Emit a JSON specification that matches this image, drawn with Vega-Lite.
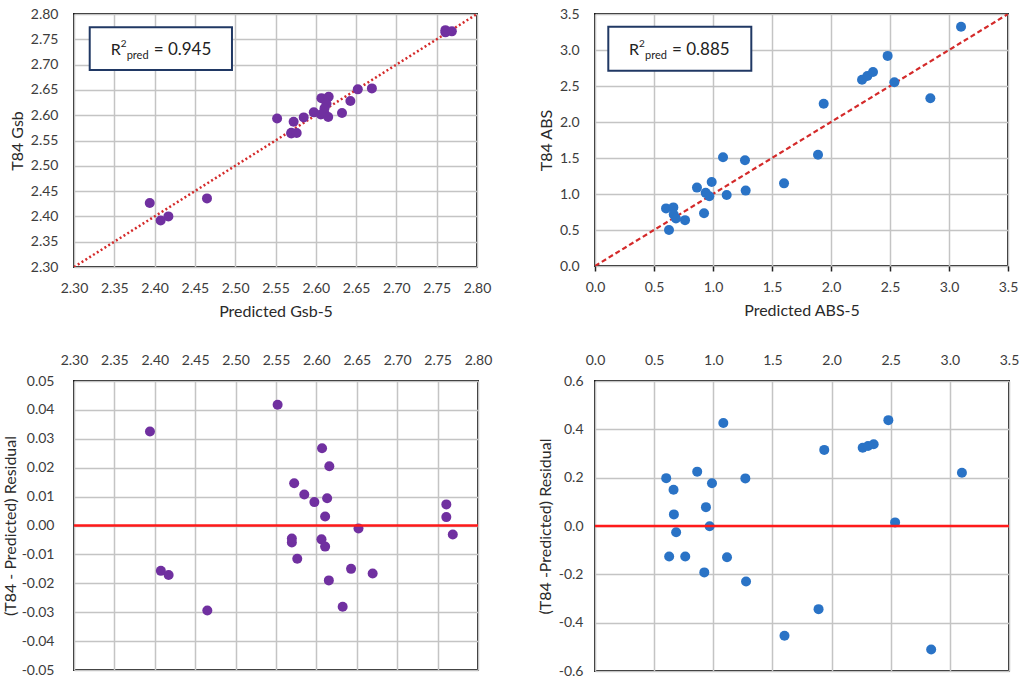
{
  "$schema": "https://vega.github.io/schema/vega-lite/v6.json",
  "background": "white",
  "padding": {"left": 1, "top": 6, "right": 5, "bottom": 5},
  "bounds": "flush",
  "columns": 2,
  "spacing": {"row": 114, "column": 117},
  "datasets": {
    "gsb": [
      {"pred": 2.552, "t84": 2.5935, "resid": 0.0418},
      {"pred": 2.394, "t84": 2.4265, "resid": 0.0325},
      {"pred": 2.607, "t84": 2.6337, "resid": 0.0267},
      {"pred": 2.616, "t84": 2.6365, "resid": 0.0205},
      {"pred": 2.5725, "t84": 2.5871, "resid": 0.0146},
      {"pred": 2.585, "t84": 2.5957, "resid": 0.0107},
      {"pred": 2.5975, "t84": 2.6056, "resid": 0.0081},
      {"pred": 2.6133, "t84": 2.6227, "resid": 0.0094},
      {"pred": 2.6108, "t84": 2.6139, "resid": 0.0031},
      {"pred": 2.7608, "t84": 2.7681, "resid": 0.0073},
      {"pred": 2.7608, "t84": 2.7637, "resid": 0.0029},
      {"pred": 2.7688, "t84": 2.7657, "resid": -0.0031},
      {"pred": 2.6521, "t84": 2.6511, "resid": -0.001},
      {"pred": 2.5696, "t84": 2.5651, "resid": -0.0045},
      {"pred": 2.5696, "t84": 2.5637, "resid": -0.0059},
      {"pred": 2.6063, "t84": 2.6015, "resid": -0.0048},
      {"pred": 2.6108, "t84": 2.6035, "resid": -0.0073},
      {"pred": 2.5763, "t84": 2.5648, "resid": -0.0115},
      {"pred": 2.4075, "t84": 2.3918, "resid": -0.0157},
      {"pred": 2.4171, "t84": 2.4, "resid": -0.0171},
      {"pred": 2.6429, "t84": 2.6279, "resid": -0.015},
      {"pred": 2.6696, "t84": 2.653, "resid": -0.0166},
      {"pred": 2.6154, "t84": 2.5964, "resid": -0.019},
      {"pred": 2.6325, "t84": 2.6044, "resid": -0.0281},
      {"pred": 2.465, "t84": 2.4356, "resid": -0.0294}
    ],
    "abs": [
      {"pred": 1.085, "t84": 1.511, "resid": 0.426},
      {"pred": 2.48, "t84": 2.918, "resid": 0.438},
      {"pred": 1.938, "t84": 2.253, "resid": 0.315},
      {"pred": 2.263, "t84": 2.587, "resid": 0.324},
      {"pred": 2.308, "t84": 2.639, "resid": 0.331},
      {"pred": 2.356, "t84": 2.694, "resid": 0.338},
      {"pred": 3.102, "t84": 3.322, "resid": 0.22},
      {"pred": 0.602, "t84": 0.8, "resid": 0.198},
      {"pred": 0.864, "t84": 1.089, "resid": 0.225},
      {"pred": 0.989, "t84": 1.166, "resid": 0.177},
      {"pred": 1.271, "t84": 1.468, "resid": 0.197},
      {"pred": 0.664, "t84": 0.814, "resid": 0.15},
      {"pred": 0.938, "t84": 1.016, "resid": 0.078},
      {"pred": 0.667, "t84": 0.715, "resid": 0.048},
      {"pred": 2.537, "t84": 2.552, "resid": 0.015},
      {"pred": 0.969, "t84": 0.968, "resid": -0.001},
      {"pred": 0.686, "t84": 0.66, "resid": -0.026},
      {"pred": 0.627, "t84": 0.501, "resid": -0.126},
      {"pred": 0.763, "t84": 0.637, "resid": -0.126},
      {"pred": 1.116, "t84": 0.987, "resid": -0.129},
      {"pred": 0.924, "t84": 0.732, "resid": -0.192},
      {"pred": 1.277, "t84": 1.047, "resid": -0.23},
      {"pred": 1.89, "t84": 1.546, "resid": -0.344},
      {"pred": 1.602, "t84": 1.148, "resid": -0.454},
      {"pred": 2.842, "t84": 2.331, "resid": -0.511}
    ],
    "gsbLine": [{"v": 2.3}, {"v": 2.8}],
    "absLine": [{"v": 0}, {"v": 3.5}],
    "gsbNote": [{"tx": 2.3455, "ty": 2.719, "bx1": 2.3195, "bx2": 2.496, "by1": 2.7737, "by2": 2.6893}],
    "absNote": [{"tx": 0.288, "ty": 2.9306, "bx1": 0.1127, "bx2": 1.3246, "by1": 3.3236, "by2": 2.7125}],
    "zero": [{"z": 0}]
  },
  "concat": [
    {
      "width": 403,
      "height": 253,
      "layer": [
        {
          "data": {"name": "gsbLine"},
          "mark": {"type": "line", "color": "#d42a2a", "strokeWidth": 2.5, "strokeDash": [2, 2.5], "clip": true},
          "encoding": {
            "x": {"field": "v", "type": "quantitative", "title": "Predicted Gsb-5",
              "scale": {"domain": [2.3, 2.8], "nice": false, "zero": false},
              "axis": {"values": [2.3, 2.35, 2.4, 2.45, 2.5, 2.55, 2.6, 2.65, 2.7, 2.75, 2.8], "tickCount": 30, "format": ".2f", "labelOverlap": false, "titlePadding": 8}},
            "y": {"field": "v", "type": "quantitative", "title": "T84 Gsb",
              "scale": {"domain": [2.3, 2.8], "nice": false, "zero": false},
              "axis": {"values": [2.3, 2.35, 2.4, 2.45, 2.5, 2.55, 2.6, 2.65, 2.7, 2.75, 2.8], "tickCount": 30, "format": ".2f", "labelOverlap": false, "labelPadding": 16}}
          }
        },
        {
          "data": {"name": "gsb"},
          "mark": {"type": "point", "filled": true, "size": 100, "opacity": 1, "color": "#7030a0"},
          "encoding": {
            "x": {"field": "pred", "type": "quantitative", "title": "Predicted Gsb-5"},
            "y": {"field": "t84", "type": "quantitative", "title": "T84 Gsb"}
          }
        },
        {
          "data": {"name": "gsbNote"},
          "mark": {"type": "rect", "fill": "white", "stroke": "#203864", "strokeWidth": 2},
          "encoding": {
            "x": {"field": "bx1", "type": "quantitative", "title": "Predicted Gsb-5"},
            "x2": {"field": "bx2"},
            "y": {"field": "by1", "type": "quantitative", "title": "T84 Gsb"},
            "y2": {"field": "by2"}
          }
        },
        {
          "data": {"name": "gsbNote"},
          "mark": {"type": "text", "text": "R", "align": "left", "baseline": "alphabetic", "font": "Lato", "fontSize": 16, "color": "#222"},
          "encoding": {"x": {"field": "tx", "type": "quantitative", "title": "Predicted Gsb-5"}, "y": {"field": "ty", "type": "quantitative", "title": "T84 Gsb"}}
        },
        {
          "data": {"name": "gsbNote"},
          "mark": {"type": "text", "text": "2", "align": "left", "baseline": "alphabetic", "font": "Lato", "fontSize": 10, "dx": 10, "dy": -8, "color": "#222"},
          "encoding": {"x": {"field": "tx", "type": "quantitative", "title": "Predicted Gsb-5"}, "y": {"field": "ty", "type": "quantitative", "title": "T84 Gsb"}}
        },
        {
          "data": {"name": "gsbNote"},
          "mark": {"type": "text", "text": "pred", "align": "left", "baseline": "alphabetic", "font": "Lato", "fontSize": 11, "dx": 16, "dy": 4, "color": "#222"},
          "encoding": {"x": {"field": "tx", "type": "quantitative", "title": "Predicted Gsb-5"}, "y": {"field": "ty", "type": "quantitative", "title": "T84 Gsb"}}
        },
        {
          "data": {"name": "gsbNote"},
          "mark": {"type": "text", "text": "= 0.945", "align": "left", "baseline": "alphabetic", "font": "Lato", "fontSize": 17, "dx": 43, "color": "#222"},
          "encoding": {"x": {"field": "tx", "type": "quantitative", "title": "Predicted Gsb-5"}, "y": {"field": "ty", "type": "quantitative", "title": "T84 Gsb"}}
        }
      ]
    },
    {
      "width": 413,
      "height": 252,
      "layer": [
        {
          "data": {"name": "absLine"},
          "mark": {"type": "line", "color": "#d42a2a", "strokeWidth": 2.2, "strokeDash": [5, 3], "clip": true},
          "encoding": {
            "x": {"field": "v", "type": "quantitative", "title": "Predicted ABS-5",
              "scale": {"domain": [0, 3.5], "nice": false},
              "axis": {"values": [0, 0.5, 1, 1.5, 2, 2.5, 3, 3.5], "tickCount": 30, "format": ".1f", "labelOverlap": false, "ticks": true, "tickSize": 5, "tickColor": "#222", "tickWidth": 1.5, "labelPadding": 9, "titlePadding": 8}},
            "y": {"field": "v", "type": "quantitative", "title": "T84 ABS",
              "scale": {"domain": [0, 3.5], "nice": false},
              "axis": {"values": [0, 0.5, 1, 1.5, 2, 2.5, 3, 3.5], "tickCount": 30, "format": ".1f", "labelOverlap": false, "labelPadding": 16}}
          }
        },
        {
          "data": {"name": "abs"},
          "mark": {"type": "point", "filled": true, "size": 100, "opacity": 1, "color": "#2a73c6"},
          "encoding": {
            "x": {"field": "pred", "type": "quantitative", "title": "Predicted ABS-5"},
            "y": {"field": "t84", "type": "quantitative", "title": "T84 ABS"}
          }
        },
        {
          "data": {"name": "absNote"},
          "mark": {"type": "rect", "fill": "white", "stroke": "#203864", "strokeWidth": 2},
          "encoding": {
            "x": {"field": "bx1", "type": "quantitative", "title": "Predicted ABS-5"},
            "x2": {"field": "bx2"},
            "y": {"field": "by1", "type": "quantitative", "title": "T84 ABS"},
            "y2": {"field": "by2"}
          }
        },
        {
          "data": {"name": "absNote"},
          "mark": {"type": "text", "text": "R", "align": "left", "baseline": "alphabetic", "font": "Lato", "fontSize": 16, "color": "#222"},
          "encoding": {"x": {"field": "tx", "type": "quantitative", "title": "Predicted ABS-5"}, "y": {"field": "ty", "type": "quantitative", "title": "T84 ABS"}}
        },
        {
          "data": {"name": "absNote"},
          "mark": {"type": "text", "text": "2", "align": "left", "baseline": "alphabetic", "font": "Lato", "fontSize": 10, "dx": 10, "dy": -8, "color": "#222"},
          "encoding": {"x": {"field": "tx", "type": "quantitative", "title": "Predicted ABS-5"}, "y": {"field": "ty", "type": "quantitative", "title": "T84 ABS"}}
        },
        {
          "data": {"name": "absNote"},
          "mark": {"type": "text", "text": "pred", "align": "left", "baseline": "alphabetic", "font": "Lato", "fontSize": 11, "dx": 16, "dy": 4, "color": "#222"},
          "encoding": {"x": {"field": "tx", "type": "quantitative", "title": "Predicted ABS-5"}, "y": {"field": "ty", "type": "quantitative", "title": "T84 ABS"}}
        },
        {
          "data": {"name": "absNote"},
          "mark": {"type": "text", "text": "= 0.885", "align": "left", "baseline": "alphabetic", "font": "Lato", "fontSize": 17, "dx": 43, "color": "#222"},
          "encoding": {"x": {"field": "tx", "type": "quantitative", "title": "Predicted ABS-5"}, "y": {"field": "ty", "type": "quantitative", "title": "T84 ABS"}}
        }
      ]
    },
    {
      "width": 404,
      "height": 289,
      "layer": [
        {
          "data": {"name": "gsb"},
          "mark": {"type": "point", "filled": true, "size": 100, "opacity": 1, "color": "#7030a0"},
          "encoding": {
            "x": {"field": "pred", "type": "quantitative", "title": null,
              "scale": {"domain": [2.3, 2.8], "nice": false, "zero": false},
              "axis": {"orient": "top", "values": [2.3, 2.35, 2.4, 2.45, 2.5, 2.55, 2.6, 2.65, 2.7, 2.75, 2.8], "tickCount": 30, "format": ".2f", "labelOverlap": false}},
            "y": {"field": "resid", "type": "quantitative", "title": "(T84 - Predicted) Residual",
              "scale": {"domain": [-0.05, 0.05], "nice": false, "zero": false},
              "axis": {"values": [-0.05, -0.04, -0.03, -0.02, -0.01, 0, 0.01, 0.02, 0.03, 0.04, 0.05], "tickCount": 30, "format": ".2f", "labelOverlap": false, "labelPadding": 20, "titlePadding": 3}}
          }
        },
        {
          "data": {"name": "zero"},
          "mark": {"type": "rule", "color": "#ff1a1a", "strokeWidth": 2.5},
          "encoding": {"y": {"field": "z", "type": "quantitative", "title": "(T84 - Predicted) Residual"}}
        }
      ]
    },
    {
      "width": 414,
      "height": 290,
      "layer": [
        {
          "data": {"name": "abs"},
          "mark": {"type": "point", "filled": true, "size": 100, "opacity": 1, "color": "#2a73c6"},
          "encoding": {
            "x": {"field": "pred", "type": "quantitative", "title": null,
              "scale": {"domain": [0, 3.5], "nice": false},
              "axis": {"orient": "top", "values": [0, 0.5, 1, 1.5, 2, 2.5, 3, 3.5], "tickCount": 30, "format": ".1f", "labelOverlap": false}},
            "y": {"field": "resid", "type": "quantitative", "title": "(T84 -Predicted) Residual",
              "scale": {"domain": [-0.6, 0.6], "nice": false, "zero": false},
              "axis": {"values": [-0.6, -0.4, -0.2, 0, 0.2, 0.4, 0.6], "tickCount": 30, "format": ".1f", "labelOverlap": false, "labelPadding": 12}}
          }
        },
        {
          "data": {"name": "zero"},
          "mark": {"type": "rule", "color": "#ff1a1a", "strokeWidth": 2.5},
          "encoding": {"y": {"field": "z", "type": "quantitative", "title": "(T84 -Predicted) Residual"}}
        }
      ]
    }
  ],
  "config": {
    "locale": {"number": {"decimal": ".", "thousands": ",", "grouping": [3], "currency": ["$", ""], "minus": "-"}},
    "view": {"stroke": "#1a1a1a", "strokeWidth": 2},
    "axis": {
      "domain": false,
      "ticks": false,
      "tickSize": 0,
      "grid": true,
      "gridColor": "#c4c4c4",
      "gridWidth": 1.5,
      "labelOverlap": false,
      "labelFlush": false,
      "labelBound": false,
      "labelFont": "Lato",
      "labelFontSize": 14,
      "labelColor": "#3c3c3c",
      "labelPadding": 14,
      "titleFont": "Lato",
      "titleFontSize": 16,
      "titleFontWeight": "normal",
      "titleColor": "#2a2a2a",
      "titlePadding": 5
    }
  }
}
